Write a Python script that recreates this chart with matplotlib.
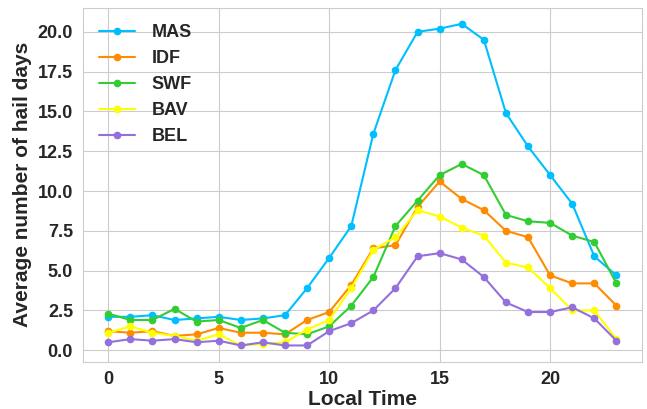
import matplotlib.pyplot as plt
import seaborn as sns
import numpy as np

hours = list(range(24))

mas = [2.1, 2.1, 2.2, 1.9, 2.0, 2.1, 1.9, 2.0, 2.2, 3.9, 5.8, 7.8,
       13.6, 17.6, 20.0, 20.2, 20.5, 19.5, 14.9, 12.8, 11.0, 9.2, 5.9, 4.7]
idf = [1.2, 1.1, 1.2, 0.9, 1.0, 1.4, 1.1, 1.1, 1.0, 1.9, 2.4, 4.1,
       6.4, 6.6, 9.0, 10.6, 9.5, 8.8, 7.5, 7.1, 4.7, 4.2, 4.2, 2.8]
swf = [2.3, 1.9, 1.9, 2.6, 1.8, 1.9, 1.4, 1.9, 1.1, 1.0, 1.5, 2.8,
       4.6, 7.8, 9.4, 11.0, 11.7, 11.0, 8.5, 8.1, 8.0, 7.2, 6.8, 4.2]
bav = [1.1, 1.5, 1.1, 0.9, 0.6, 1.0, 0.3, 0.4, 0.5, 1.3, 1.9, 3.9,
       6.3, 7.1, 8.8, 8.4, 7.7, 7.2, 5.5, 5.2, 3.9, 2.5, 2.5, 0.7]
bel = [0.5, 0.7, 0.6, 0.7, 0.5, 0.6, 0.3, 0.5, 0.3, 0.3, 1.2, 1.7,
       2.5, 3.9, 5.9, 6.1, 5.7, 4.6, 3.0, 2.4, 2.4, 2.7, 2.0, 0.6]

sns.set_style("whitegrid")
plt.rcParams['font.family'] = ['Liberation Sans', 'DejaVu Sans']

fig, ax = plt.subplots(figsize=(6.47, 4.09), dpi=100)
ax.plot(hours, mas, color="deepskyblue", marker='o', markersize=4.5, label="MAS")
ax.plot(hours, idf, color="darkorange", marker='o', markersize=4.5, label="IDF")
ax.plot(hours, swf, color="limegreen", marker='o', markersize=4.5, label="SWF")
ax.plot(hours, bav, color="yellow", marker='o', markersize=4.5, label="BAV")
ax.plot(hours, bel, color="mediumpurple", marker='o', markersize=4.5, label="BEL")

ax.set_xticks([0, 5, 10, 15, 20])
ax.set_yticks(np.arange(0, 21, 2.5))
ax.tick_params(labelsize=13)
for lab in ax.get_xticklabels() + ax.get_yticklabels():
    lab.set_fontweight('bold')
ax.set_xlabel("Local Time", fontsize=15, fontweight='bold', labelpad=1)
ax.set_ylabel("Average number of hail days", fontsize=15, fontweight='bold', labelpad=4)
ax.legend(loc='upper left', frameon=False, prop={'size': 13, 'weight': 'bold'},
          labelspacing=0.5, handlelength=2.0, handletextpad=0.9)

plt.subplots_adjust(left=0.128, right=0.992, top=0.981, bottom=0.116)
plt.savefig("out.png", dpi=100)
